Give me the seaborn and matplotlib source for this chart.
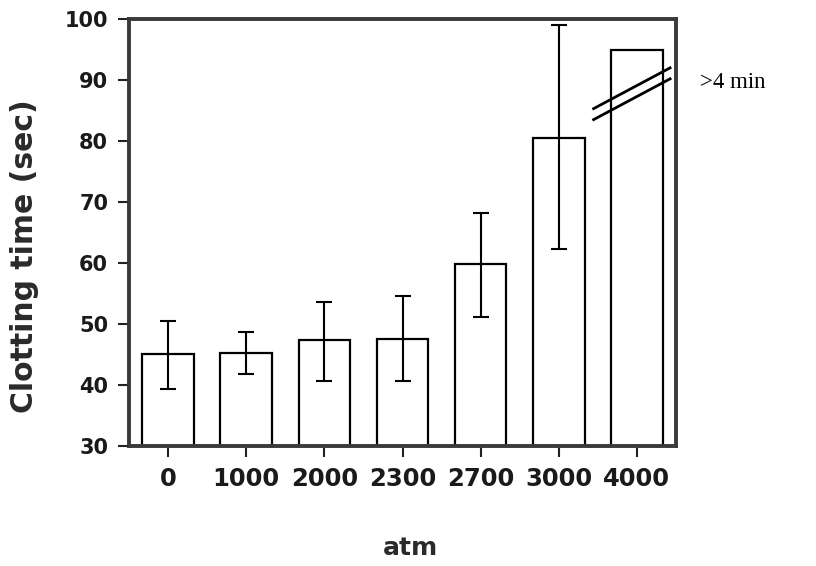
import numpy as np
import pandas as pd
import matplotlib
matplotlib.use("Agg")
import matplotlib.pyplot as plt
import seaborn as sns

# ---- data ----
atm = ["0", "1000", "2000", "2300", "2700", "3000", "4000"]
clot_mean = [45.1, 45.3, 47.3, 47.6, 59.8, 80.5, 95.0]
err_low = [39.3, 41.8, 40.7, 40.7, 51.1, 62.3, np.nan]
err_high = [50.5, 48.7, 53.6, 54.6, 68.2, 99.0, np.nan]
y_ticks = [30, 40, 50, 60, 70, 80, 90, 100]

df = pd.DataFrame({"atm": atm, "time": clot_mean})

sns.set_theme(style="white")
plt.rcParams["font.family"] = ["DejaVu Sans"]

fig = plt.figure(figsize=(8.16, 5.66), dpi=100)
ax = fig.add_axes([129 / 816, 1 - 446 / 566, (676 - 129) / 816, (446 - 19) / 566])

sns.barplot(data=df, x="atm", y="time", color="white", edgecolor="black",
            linewidth=1.6, width=0.66, ax=ax, errorbar=None, saturation=1)

xs = [p.get_x() + p.get_width() / 2 for p in ax.patches][:len(atm)]
m = np.array(clot_mean)
lo = m - np.array(err_low)
hi = np.array(err_high) - m
ax.errorbar(xs, m, yerr=[lo, hi], fmt="none", ecolor="black",
            elinewidth=1.5, capsize=5.5, capthick=1.5)

ax.set_ylim(30, 100)
ax.set_xlim(-0.5, 6.5)
ax.set_yticks(y_ticks)
ax.set_xlabel("")
ax.set_ylabel("")

for s in ax.spines.values():
    s.set_visible(True)
    s.set_linewidth(2.8)
    s.set_color("#3a3a3a")

ax.tick_params(axis="both", which="both", direction="out", length=8, width=1.5,
               color="#222222", left=True, bottom=True, top=False, right=False)
ax.tick_params(axis="y", pad=7, labelsize=15)
ax.tick_params(axis="x", pad=7, labelsize=17.5)
for lab in ax.get_xticklabels() + ax.get_yticklabels():
    lab.set_fontweight("bold")
    lab.set_color("#1a1a1a")

# axis-break marks on the last bar
ax.plot([5.43, 6.44], [85.2, 92.1], color="black", lw=2.0, clip_on=False, solid_capstyle="butt")
ax.plot([5.43, 6.44], [83.4, 90.3], color="black", lw=2.0, clip_on=False, solid_capstyle="butt")

fig.text(700 / 816, 1 - 82 / 566, ">4 min", family="Liberation Serif",
         fontsize=16.5, ha="left", va="center", color="black")

fig.text(25 / 816, 1 - 256 / 566, "Clotting time (sec)", rotation=90,
         fontsize=21.5, fontweight="bold", ha="center", va="center", color="#2a2a2a")
fig.text(410 / 816, 1 - 548 / 566, "atm", fontsize=18, fontweight="bold",
         ha="center", va="center", color="#2a2a2a")

fig.savefig("out.png", dpi=100)
